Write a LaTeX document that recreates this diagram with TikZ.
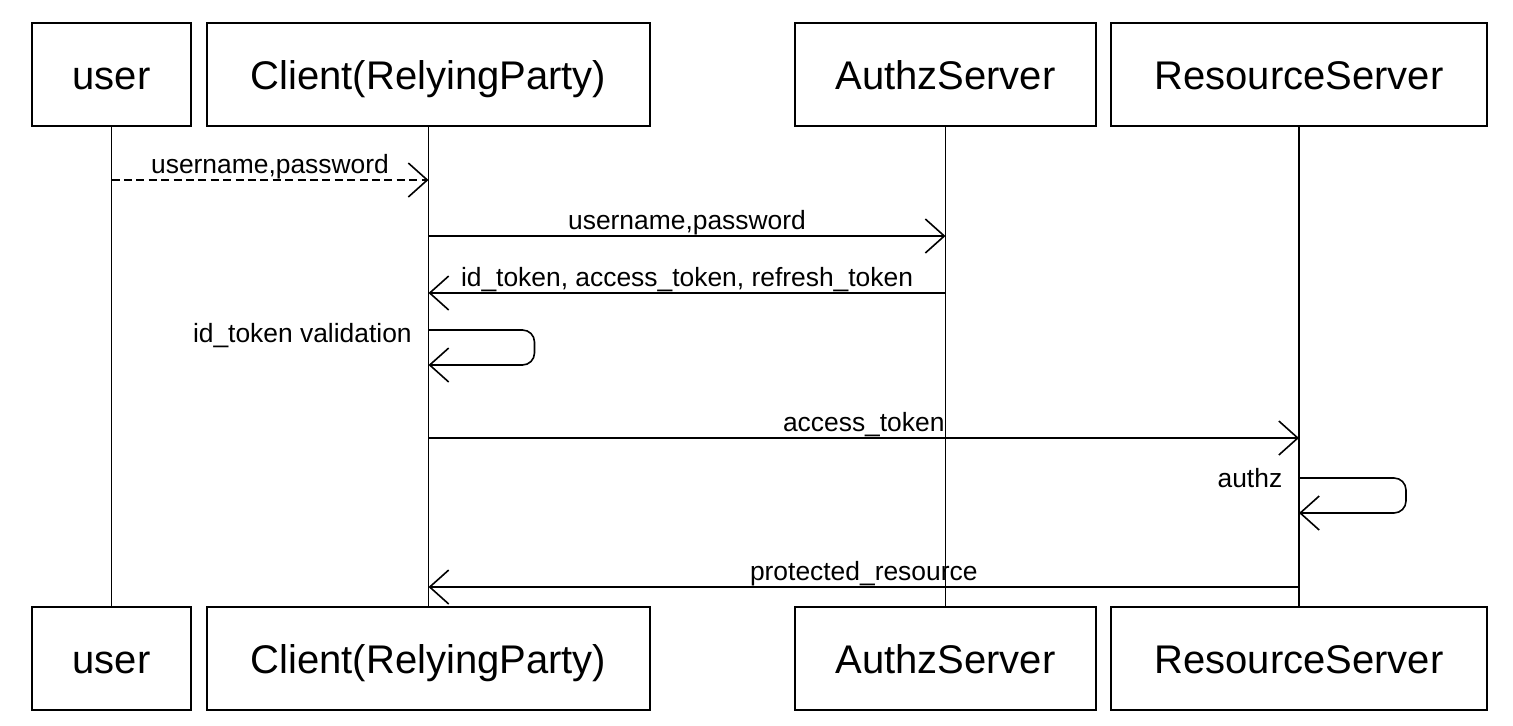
\documentclass[tikz,border=0pt]{standalone}
\usepackage{fontspec}
\setmainfont{Liberation Sans}
\usetikzlibrary{arrows.meta}

\begin{document}
\begin{tikzpicture}[x=0.5pt, y=-0.5pt,
        actor/.style={draw, line width=1pt, minimum height=51.5pt, inner sep=0pt,
            text height=16pt, text depth=1pt, font=\fontsize{20}{24}\selectfont},
        lifeline/.style={line width=0.75pt},
        msg/.style={line width=0.8pt, -{Straight Barb[length=9.5pt, width=17pt]}},
        lbl/.style={font=\fontsize{13.2}{16}\selectfont, inner sep=0pt},
        msglbl/.style={lbl, anchor=base, yshift=3.5pt}]
        \useasboundingbox (0,0) rectangle (1513,725);

        % heads
        \node[actor, minimum width=79.5pt] (userT) at (111.5,74.5) {user};
        \node[actor, minimum width=221.5pt] (clientT) at (428.5,74.5) {Client(RelyingParty)};
        \node[actor, minimum width=150.5pt] (authzT) at (945.5,74.5) {AuthzServer};
        \node[actor, minimum width=188pt] (resT) at (1299,74.5) {ResourceServer};

        % feet
        \node[actor, minimum width=79.5pt] (userB) at (111.5,658) {user};
        \node[actor, minimum width=221.5pt] (clientB) at (428.5,658) {Client(RelyingParty)};
        \node[actor, minimum width=150.5pt] (authzB) at (945.5,658) {AuthzServer};
        \node[actor, minimum width=188pt] (resB) at (1299,658) {ResourceServer};

        \draw[lifeline] (userT) -- (userB);
        \draw[lifeline] (clientT) -- (clientB);
        \draw[lifeline] (authzT) -- (authzB);
        \draw[lifeline] (resT) -- (resB);

        % message rows
        \coordinate (m1) at (0,180);
        \coordinate (m2) at (0,236);
        \coordinate (m3) at (0,293);
        \coordinate (s1) at (0,330);
        \coordinate (m4) at (0,438);
        \coordinate (s2) at (0,478);
        \coordinate (m5) at (0,587);

        \draw[msg, dash pattern=on 4pt off 2.2pt] (userT |- m1) -- node[msglbl] {username,password} (clientT |- m1);
        \draw[msg] (clientT |- m2) -- node[msglbl] {username,password} (authzT |- m2);
        \draw[msg] (authzT |- m3) -- node[msglbl] {id\_token, access\_token, refresh\_token} (clientT |- m3);
        \draw[msg, rounded corners=6pt] (clientT |- s1) node[lbl, anchor=base east, xshift=-8pt, yshift=-6pt] {id\_token validation}
            -- ++(106,0) -- ++(0,35) -- ++(-106,0);
        \draw[msg] (clientT |- m4) -- node[msglbl] {access\_token} (resT |- m4);
        \draw[msg, rounded corners=6pt] (resT |- s2) node[lbl, anchor=base east, xshift=-8pt, yshift=-4.5pt] {authz}
            -- ++(107,0) -- ++(0,35) -- ++(-107,0);
        \draw[msg] (resT |- m5) -- node[msglbl] {protected\_resource} (clientT |- m5);
    \end{tikzpicture}
\end{document}
